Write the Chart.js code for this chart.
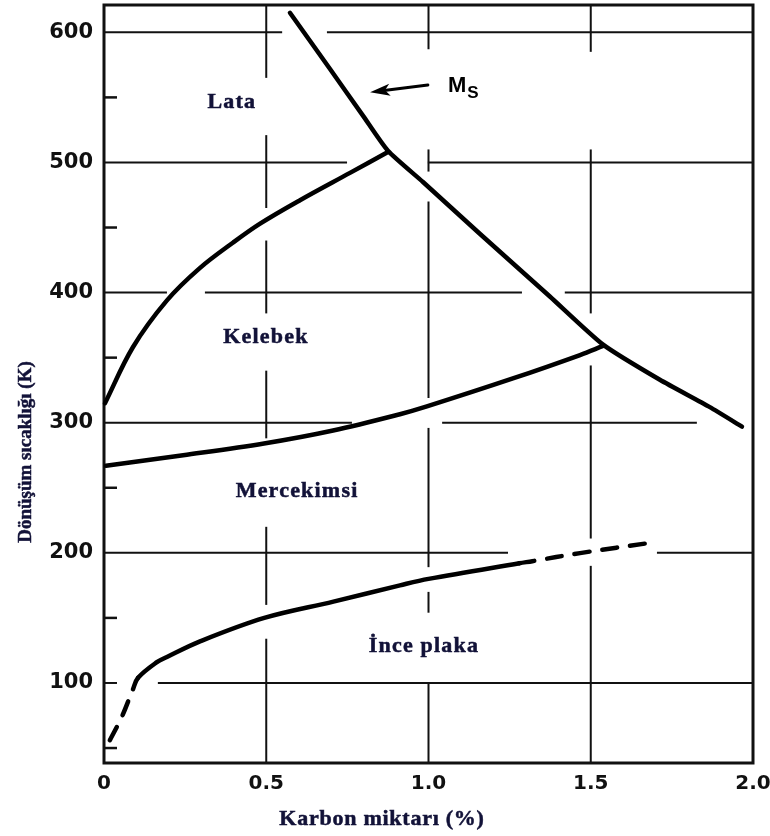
<!DOCTYPE html>
<html>
<head>
<meta charset="utf-8">
<script src="https://cdn.jsdelivr.net/npm/chart.js@4.4.1/dist/chart.umd.min.js"></script>
<style>
  html, body { margin: 0; padding: 0; background: #fff; }
  #wrap { width: 770px; height: 836px; }
</style>
</head>
<body>
<div id="wrap"><canvas id="diagram" width="770" height="836"></canvas></div>
<script>
// Martensite morphology vs carbon content (%) and transformation temperature (K)

// Ms line
const msCarbon = [0.573, 0.696, 0.798, 0.875, 0.983, 1.159, 1.374, 1.538, 1.713, 1.867, 1.966];
const msTemp   = [615, 572, 536, 509, 485, 445, 397, 360, 333, 312, 297];

// Lata / Kelebek boundary
const lataCarbon = [0.003, 0.089, 0.194, 0.296, 0.398, 0.481, 0.604, 0.758, 0.875];
const lataTemp   = [315, 358, 394, 419, 438.5, 453, 471, 492, 508];

// Kelebek / Mercekimsi boundary
const kelebekCarbon = [0.006, 0.244, 0.493, 0.706, 0.912, 0.995, 1.26, 1.467, 1.538];
const kelebekTemp   = [267, 275, 284, 294, 306.5, 312.5, 334, 352, 359];

// Mercekimsi / İnce plaka boundary (dashed at both ends)
const plakaCarbon = [0.018, 0.055, 0.089, 0.105, 0.163, 0.194, 0.296, 0.494, 0.707, 0.912, 1.0, 1.28, 1.32, 1.467, 1.692];
const plakaTemp   = [56, 74, 95, 104, 116, 120, 132, 150, 162.5, 175, 180, 192, 193.6, 199.8, 208];
const plakaSolidFrom = 0.105;
const plakaSolidTo = 1.28;

// region names
const regionNames  = ['Lata', 'Kelebek', 'Mercekimsi', 'İnce plaka'];
const regionCarbon = [0.394, 0.499, 0.595, 0.986];
const regionTemp   = [546, 366, 247, 128];

// axes
const xTicks = [0, 0.5, 1.0, 1.5, 2.0];
const xTickLabels = ['0', '0.5', '1.0', '1.5', '2.0'];
const yTicks = [100, 200, 300, 400, 500, 600];
const yMinorTicks = [50, 150, 250, 350, 450, 550];

// grid lines are broken where they meet curves and labels
const gridRows = {
  600: [[0, 0.549], [0.687, 2]],
  500: [[0, 0.749], [0.998, 2]],
  400: [[0, 0.194], [0.311, 1.288], [1.42, 2]],
  300: [[0, 0.764], [1.042, 1.827]],
  200: [[0, 1.245], [1.704, 2]],
  100: [[0, 0.04], [0.166, 2]]
};
const gridCols = {
  0.5: [[565, 621], [465, 521], [384, 440], [288, 340], [160, 220], [38, 134]],
  1.0: [[587, 621], [493, 510], [319, 470], [189, 296], [154, 170], [38, 100]],
  1.5: [[585, 621], [384, 510], [211, 344], [38, 190]]
};

const toPoints = (xs, ys) => xs.map((x, i) => ({ x, y: ys[i] }));

const curve = (data, extra) => Object.assign({
  data,
  showLine: true,
  borderColor: '#000',
  borderWidth: 4.5,
  borderCapStyle: 'round',
  borderJoinStyle: 'round',
  pointRadius: 0,
  tension: 0.35,
  fill: false,
  clip: false
}, extra);

// keep the plot box exactly where the axes say, no label overhang padding
const noOverhang = axis => {
  axis.paddingLeft = 0;
  axis.paddingRight = 0;
  axis.paddingTop = 0;
  axis.paddingBottom = 0;
};

const paperGrid = {
  id: 'paperGrid',
  beforeDatasetsDraw(chart) {
    const { ctx, chartArea: a, scales: { x, y } } = chart;
    ctx.save();
    ctx.strokeStyle = '#111';
    ctx.lineCap = 'butt';
    ctx.lineWidth = 2;
    Object.entries(gridRows).forEach(([val, segs]) => {
      const py = y.getPixelForValue(+val);
      segs.forEach(([x0, x1]) => {
        ctx.beginPath();
        ctx.moveTo(x.getPixelForValue(x0), py);
        ctx.lineTo(x.getPixelForValue(x1), py);
        ctx.stroke();
      });
    });
    Object.entries(gridCols).forEach(([val, segs]) => {
      const pxv = x.getPixelForValue(+val);
      segs.forEach(([y0, y1]) => {
        ctx.beginPath();
        ctx.moveTo(pxv, y.getPixelForValue(y0));
        ctx.lineTo(pxv, y.getPixelForValue(y1));
        ctx.stroke();
      });
    });
    ctx.lineWidth = 2.5;
    yMinorTicks.forEach(v => {
      const py = y.getPixelForValue(v);
      ctx.beginPath();
      ctx.moveTo(a.left, py);
      ctx.lineTo(a.left + 13, py);
      ctx.stroke();
    });
    ctx.lineWidth = 3;
    ctx.strokeRect(a.left, a.top, a.right - a.left, a.bottom - a.top);
    ctx.restore();
  }
};

// filled and lightly stroked so the serif captions come out heavy
const heavyText = (ctx, text, x, y) => {
  ctx.fillText(text, x, y);
  ctx.strokeText(text, x, y);
};

const annotations = {
  id: 'annotations',
  afterDatasetsDraw(chart) {
    const { ctx, scales: { x, y } } = chart;
    ctx.save();

    // region names
    ctx.fillStyle = '#121238';
    ctx.strokeStyle = '#121238';
    ctx.lineWidth = 0.5;
    ctx.font = 'bold 22px "Liberation Serif", "Times New Roman", serif';
    ctx.letterSpacing = '1.2px';
    ctx.textAlign = 'center';
    ctx.textBaseline = 'middle';
    regionNames.forEach((name, i) => {
      heavyText(ctx, name, x.getPixelForValue(regionCarbon[i]), y.getPixelForValue(regionTemp[i]));
    });

    // Ms label with arrow
    ctx.letterSpacing = '0px';
    ctx.fillStyle = '#000';
    ctx.textAlign = 'left';
    ctx.textBaseline = 'alphabetic';
    const mx = x.getPixelForValue(1.06), my = y.getPixelForValue(554);
    ctx.font = 'bold 22px "Liberation Sans", Arial, sans-serif';
    ctx.fillText('M', mx, my);
    const mw = ctx.measureText('M').width;
    ctx.font = 'bold 17px "Liberation Sans", Arial, sans-serif';
    ctx.fillText('S', mx + mw + 1, my + 6);

    const tx = x.getPixelForValue(0.998), ty = y.getPixelForValue(559.6);
    const hx = x.getPixelForValue(0.82), hy = y.getPixelForValue(554);
    const ang = Math.atan2(hy - ty, hx - tx);
    ctx.strokeStyle = '#000';
    ctx.lineWidth = 3;
    ctx.lineCap = 'round';
    ctx.beginPath();
    ctx.moveTo(tx, ty);
    ctx.lineTo(hx - 10 * Math.cos(ang), hy - 10 * Math.sin(ang));
    ctx.stroke();
    ctx.beginPath();
    ctx.moveTo(hx, hy);
    ctx.lineTo(hx - 20 * Math.cos(ang) + 6 * Math.sin(ang), hy - 20 * Math.sin(ang) - 6 * Math.cos(ang));
    ctx.lineTo(hx - 15 * Math.cos(ang), hy - 15 * Math.sin(ang));
    ctx.lineTo(hx - 20 * Math.cos(ang) - 6 * Math.sin(ang), hy - 20 * Math.sin(ang) + 6 * Math.cos(ang));
    ctx.closePath();
    ctx.fillStyle = '#000';
    ctx.fill();

    // axis titles
    ctx.fillStyle = '#121238';
    ctx.strokeStyle = '#121238';
    ctx.lineWidth = 0.5;
    ctx.textAlign = 'center';
    ctx.textBaseline = 'middle';
    ctx.font = 'bold 22px "Liberation Serif", "Times New Roman", serif';
    ctx.letterSpacing = '0.75px';
    heavyText(ctx, 'Karbon miktarı (%)', 382, 819);

    ctx.font = 'bold 19px "Liberation Serif", "Times New Roman", serif';
    ctx.letterSpacing = '0px';
    ctx.translate(26, 452);
    ctx.rotate(-Math.PI / 2);
    heavyText(ctx, 'Dönüşüm sıcaklığı (K)', 0, 0);
    ctx.restore();
  }
};

new Chart(document.getElementById('diagram'), {
  type: 'scatter',
  data: {
    datasets: [
      curve(toPoints(msCarbon, msTemp), { label: 'Ms', tension: 0.2 }),
      curve(toPoints(lataCarbon, lataTemp), { label: 'Lata' }),
      curve(toPoints(kelebekCarbon, kelebekTemp), { label: 'Kelebek' }),
      curve(toPoints(plakaCarbon, plakaTemp), {
        label: 'İnce plaka',
        segment: {
          borderDash: ctx => (ctx.p0.parsed.x < plakaSolidFrom || ctx.p0.parsed.x >= plakaSolidTo) ? [15, 13] : undefined
        }
      })
    ]
  },
  options: {
    responsive: false,
    animation: false,
    layout: { autoPadding: false, padding: { top: 5, right: 17, left: 0, bottom: 0 } },
    plugins: {
      legend: { display: false },
      tooltip: { enabled: false }
    },
    scales: {
      x: {
        type: 'linear',
        min: 0,
        max: 2.0,
        grid: { display: false, drawTicks: false },
        border: { display: false },
        afterBuildTicks: axis => { axis.ticks = xTicks.map(v => ({ value: v })); },
        afterFit: axis => { axis.height = 73; noOverhang(axis); },
        ticks: {
          autoSkip: false,
          maxRotation: 0,
          padding: 9,
          color: '#111',
          font: { family: '"DejaVu Sans", sans-serif', weight: 'bold', size: 20 },
          callback: (v, i) => xTickLabels[i]
        }
      },
      y: {
        type: 'linear',
        min: 38.5,
        max: 621,
        grid: { display: false, drawTicks: false },
        border: { display: false },
        afterBuildTicks: axis => { axis.ticks = yTicks.map(v => ({ value: v })); },
        afterFit: axis => { axis.width = 104; noOverhang(axis); },
        ticks: {
          padding: 11,
          color: '#111',
          font: { family: '"DejaVu Sans", sans-serif', weight: 'bold', size: 21 },
          callback: v => String(v)
        }
      }
    }
  },
  plugins: [paperGrid, annotations]
});
</script>
</body>
</html>
